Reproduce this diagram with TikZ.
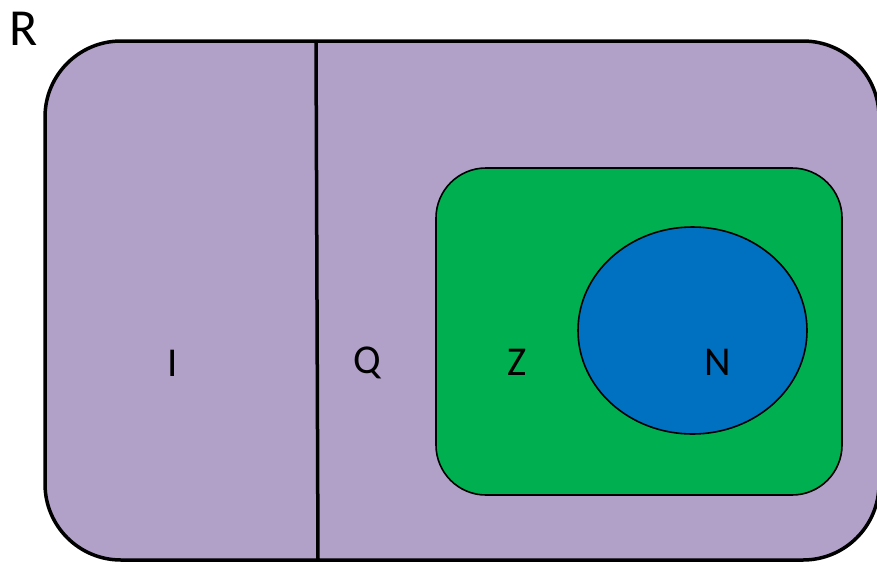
\documentclass[tikz,border=0pt]{standalone}
\usepackage{fontspec}
\setmainfont{Carlito}
\definecolor{setpurple}{HTML}{B1A0C7}
\definecolor{setgreen}{HTML}{00B050}
\definecolor{setblue}{HTML}{0070C0}
\begin{document}
\begin{tikzpicture}[x=1pt,y=-1pt,
  lbl/.style={inner sep=0pt,font=\fontsize{41}{41}\selectfont,text=black},
  big/.style={inner sep=0pt,font=\fontsize{52}{52}\selectfont,text=black}]
\useasboundingbox (0,0) rectangle (877,565);
% real numbers: outer region
\draw[line width=3.5pt,fill=setpurple,rounded corners=76pt] (45,41) rectangle (879,560);
% split between irrationals and rationals
\draw[line width=3.5pt] (316,42) -- (318,560);
% integers
\draw[line width=1.6pt,fill=setgreen,rounded corners=50pt] (436,168) rectangle (842,495);
% natural numbers
\draw[line width=1.6pt,fill=setblue] (692.5,330.5) ellipse [x radius=114.5pt,y radius=103.5pt];
% labels
\node[big] (r) at (24,29) {R};
\node[lbl] (i) at (173,363) {I};
\node[lbl] (q) at (367,363) {Q};
\node[lbl] (z) at (517,362) {Z};
\node[lbl] (n) at (718,362) {N};
\end{tikzpicture}
\end{document}
